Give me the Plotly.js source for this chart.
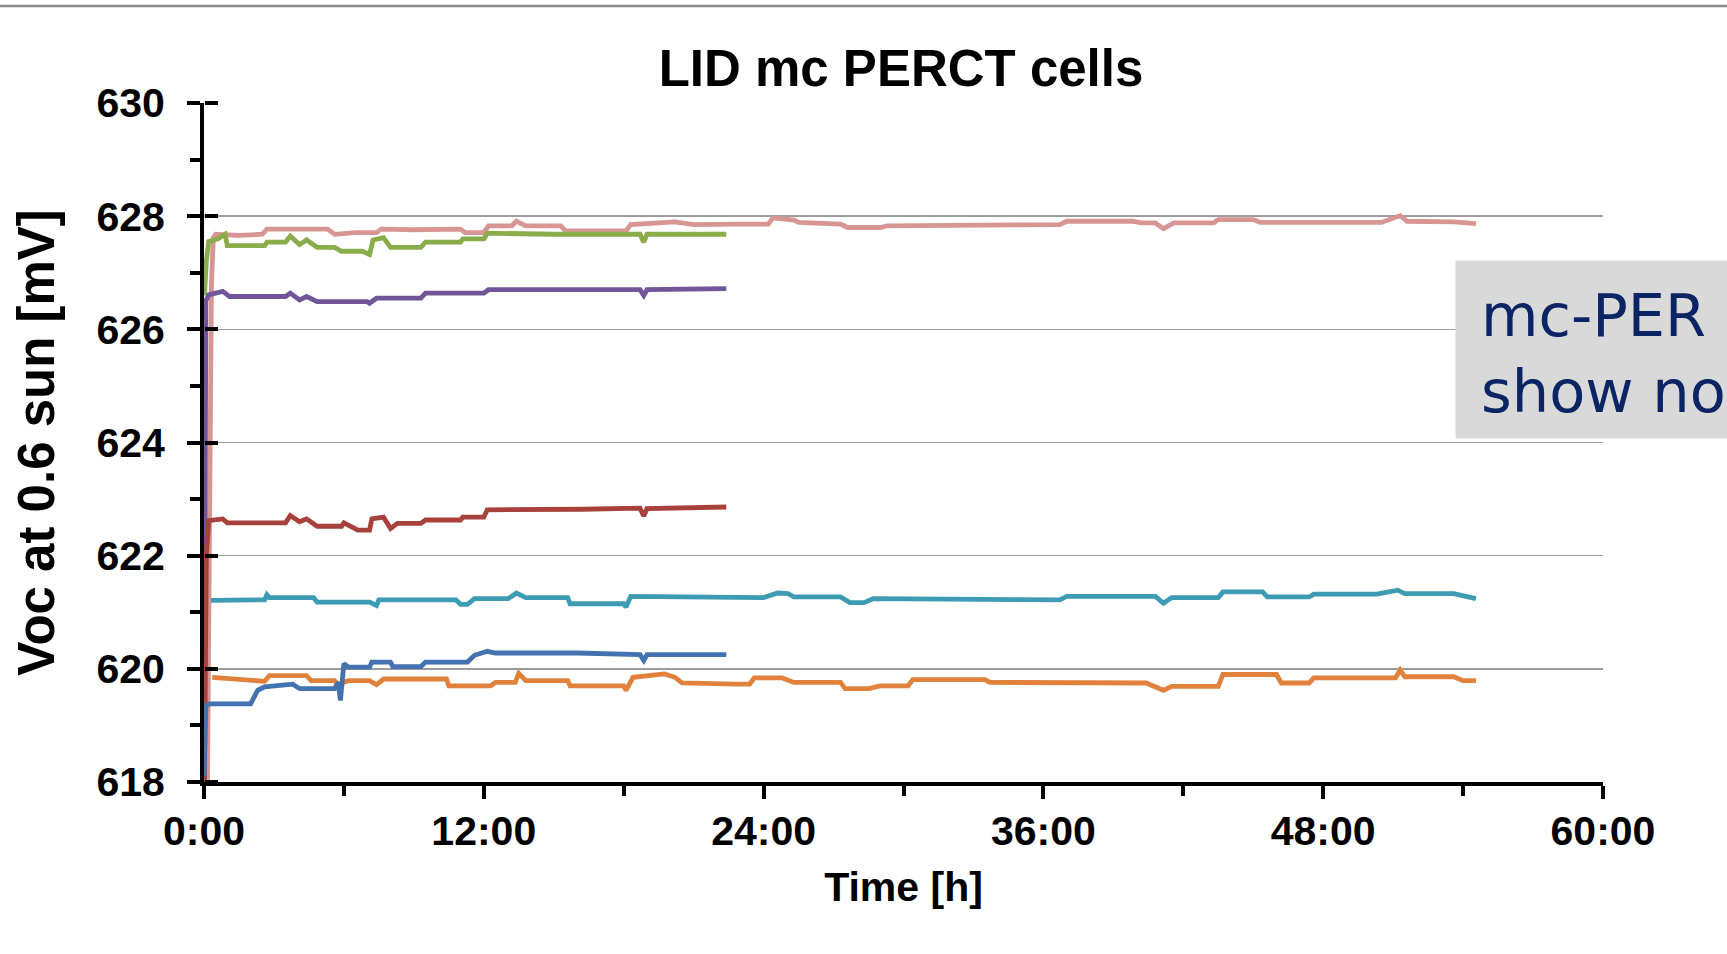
<!DOCTYPE html>
<html>
<head>
<meta charset="utf-8">
<script src="https://cdn.plot.ly/plotly-3.0.1.min.js"></script>
<style>
html,body{margin:0;padding:0;background:#fff;overflow:hidden;}
#chart{width:1727px;height:954px;}
</style>
</head>
<body>
<div id="chart"></div>
<script>
// ---- data (time in hours, Voc in mV) ----
const pinkT = [0.15,0.25,0.32,0.4,0.5,1.5,2.5,2.7,4.0,5.3,5.6,6.5,7.4,7.6,9.0,11.0,11.2,12.0,12.2,13.2,13.4,13.8,15.3,15.5,18.1,18.3,20.2,21.0,22.8,24.2,24.4,25.3,25.5,26.1,27.3,27.6,29.0,29.3,32.6,33.0,36.7,37.0,39.8,40.2,40.8,41.15,41.6,43.3,43.5,45.0,45.3,50.5,51.3,51.6,53.6,54.55];
const pinkV = [618.0,622.5,626.8,627.62,627.68,627.66,627.68,627.77,627.76,627.77,627.68,627.71,627.71,627.77,627.76,627.77,627.71,627.71,627.83,627.83,627.91,627.83,627.83,627.74,627.74,627.85,627.9,627.85,627.86,627.86,627.97,627.93,627.89,627.88,627.86,627.8,627.8,627.83,627.83,627.85,627.85,627.91,627.91,627.88,627.88,627.78,627.88,627.88,627.94,627.94,627.89,627.89,628.01,627.91,627.9,627.87];

const greenT = [0.02,0.1,0.2,0.6,0.9,1.0,2.6,2.7,3.5,3.7,4.1,4.4,4.85,5.6,5.9,6.8,7.1,7.25,7.7,8.0,9.3,9.5,11.0,11.1,12.0,12.15,15.0,18.7,18.86,19.0,22.4];
const greenV = [626.6,627.2,627.55,627.6,627.68,627.48,627.48,627.54,627.54,627.65,627.5,627.58,627.45,627.45,627.38,627.38,627.32,627.58,627.62,627.45,627.45,627.54,627.54,627.6,627.6,627.7,627.68,627.68,627.54,627.68,627.68];

const purpleT = [0.01,0.08,0.2,0.8,1.1,3.5,3.7,4.1,4.4,4.85,7.0,7.1,7.4,9.3,9.5,12.0,12.2,18.7,18.86,19.0,22.4];
const purpleV = [618.2,626.5,626.61,626.67,626.58,626.58,626.64,626.52,626.58,626.49,626.49,626.46,626.55,626.55,626.64,626.64,626.7,626.7,626.6,626.7,626.72];

const redT = [0.02,0.1,0.2,0.8,1.0,3.5,3.7,4.1,4.4,4.85,5.9,6.0,6.6,7.1,7.2,7.7,8.0,8.3,9.3,9.5,11.0,11.1,12.0,12.15,16.2,18.7,18.86,19.0,22.4];
const redV = [618.0,622.0,622.62,622.65,622.58,622.58,622.71,622.6,622.65,622.52,622.52,622.58,622.45,622.45,622.65,622.68,622.48,622.57,622.57,622.63,622.63,622.68,622.68,622.81,622.82,622.84,622.7,622.83,622.86];

const tealT = [0.3,2.6,2.7,2.8,4.7,4.85,7.1,7.4,7.5,10.8,11.0,11.3,11.6,13.05,13.4,13.8,15.6,15.7,18.0,18.1,18.3,22.8,24.0,24.6,25.05,25.3,27.3,27.7,28.3,28.7,33.5,33.7,36.7,37.0,40.8,41.15,41.5,43.5,43.7,45.4,45.6,47.4,47.6,50.3,51.2,51.5,53.6,54.55];
const tealV = [621.21,621.22,621.31,621.26,621.26,621.18,621.18,621.12,621.22,621.22,621.14,621.14,621.24,621.24,621.34,621.26,621.26,621.15,621.15,621.09,621.28,621.27,621.26,621.34,621.33,621.27,621.27,621.17,621.17,621.24,621.24,621.22,621.22,621.28,621.28,621.16,621.26,621.26,621.36,621.36,621.27,621.27,621.32,621.32,621.39,621.33,621.33,621.24];

const blueT = [0.0,0.08,0.2,2.0,2.3,2.6,3.8,4.1,5.6,5.75,5.85,6.0,6.2,7.1,7.2,8.0,8.1,9.3,9.5,11.3,11.6,12.15,12.5,16.0,18.7,18.86,19.0,22.4];
const blueV = [618.1,619.35,619.38,619.38,619.62,619.68,619.73,619.65,619.65,619.76,619.44,620.09,620.03,620.03,620.12,620.12,620.04,620.04,620.12,620.12,620.24,620.31,620.28,620.28,620.25,620.15,620.25,620.25];

const orangeT = [0.35,1.6,2.6,2.8,4.4,4.6,5.6,5.75,6.2,7.1,7.4,7.7,10.4,10.5,12.3,12.5,13.35,13.5,13.8,15.6,15.7,18.0,18.1,18.4,19.75,20.2,20.5,22.8,23.4,23.6,24.8,25.3,27.3,27.5,28.5,29.0,30.2,30.4,33.5,33.7,36.7,37.0,40.4,41.15,41.5,43.5,43.7,46.0,46.2,47.4,47.6,51.1,51.3,51.5,53.6,54.0,54.55];
const orangeV = [619.85,619.82,619.78,619.88,619.88,619.79,619.79,619.73,619.79,619.79,619.72,619.82,619.82,619.7,619.7,619.76,619.76,619.92,619.79,619.79,619.7,619.7,619.62,619.85,619.91,619.85,619.75,619.73,619.73,619.84,619.84,619.76,619.76,619.65,619.65,619.7,619.7,619.81,619.81,619.76,619.76,619.75,619.75,619.62,619.69,619.69,619.9,619.9,619.75,619.75,619.84,619.84,619.98,619.86,619.86,619.79,619.79];

const xTickVals = [0,12,24,36,48,60];
const xTickText = ["0:00","12:00","24:00","36:00","48:00","60:00"];
const xMinorVals = [6,18,30,42,54];

const chartTitle = "LID mc PERCT cells";
const xTitle = "Time [h]";
const yTitle = "Voc at 0.6 sun [mV]";
const boxLine1 = "mc-PER";
const boxLine2 = "show no";

// ---- traces ----
function tr(t, v, color, yax) {
  return {x: t, y: v, type: 'scatter', mode: 'lines', yaxis: yax || 'y',
          line: {color: color, width: 4.8}, showlegend: false, hoverinfo: 'skip'};
}
const data = [
  tr(pinkT, pinkV, '#d79593'),
  tr(orangeT, orangeV, '#e0823b'),
  tr(tealT, tealV, '#3d9bb3'),
  tr(greenT, greenV, '#8aac4a'),
  tr(purpleT, purpleV, '#705698'),
  tr(redT, redV, '#a8403c'),
  tr(blueT, blueV, '#4471b0', 'y2')
];

const F = 'Liberation Sans, Arial, Helvetica, sans-serif';
const L = 204, R = 1603, T = 103, B = 782;
const W = 1727, H = 954;
const pw = R - L, ph = B - T;
const px = v => (v - L) / pw;
const py = v => (B - v) / ph;

const layout = {
  width: W, height: H,
  margin: {l: L, r: W - R, t: T, b: H - B, pad: 0},
  paper_bgcolor: '#ffffff', plot_bgcolor: '#ffffff',
  title: {text: chartTitle, font: {family: F, size: 51, weight: 'bold', color: '#000'},
          x: 901 / W, xref: 'container', xanchor: 'center',
          y: 1 - 68 / H, yref: 'container', yanchor: 'middle'},
  xaxis: {
    range: [0, 60], tickmode: 'array', tickvals: xTickVals, ticktext: xTickText,
    ticks: 'outside', ticklen: 13, tickwidth: 4, tickcolor: '#000',
    showline: true, linecolor: '#000', linewidth: 4,
    showgrid: false, zeroline: false,
    tickfont: {family: F, size: 41, weight: 'bold', color: '#000'},
    ticklabelstandoff: -3,
    minor: {tickmode: 'array', tickvals: xMinorVals, ticks: 'outside', ticklen: 10, tickwidth: 4, tickcolor: '#000', showgrid: false},
    title: {text: xTitle, font: {family: F, size: 41, weight: 'bold', color: '#000'}, standoff: 20},
    fixedrange: true
  },
  yaxis: {
    range: [618, 630], dtick: 2, tick0: 618,
    ticks: 'outside', ticklen: 13, tickwidth: 4, tickcolor: '#000',
    showline: true, linecolor: '#000', linewidth: 4,
    showgrid: true, gridcolor: '#9c9c9c', gridwidth: 1.5, zeroline: false,
    tickfont: {family: F, size: 41, weight: 'bold', color: '#000'},
    ticklabelstandoff: 14,
    minor: {dtick: 1, tick0: 618, ticks: 'outside', ticklen: 10, tickwidth: 4, tickcolor: '#000', showgrid: false},
    title: {text: yTitle, font: {family: F, size: 51, weight: 'bold', color: '#000'}, standoff: 27},
    fixedrange: true
  },
  yaxis2: {
    overlaying: 'y', anchor: 'free', position: 0, side: 'right',
    range: [618, 630], dtick: 2, tick0: 618,
    ticks: 'outside', ticklen: 13, tickwidth: 4, tickcolor: '#000',
    showticklabels: false, showgrid: false, showline: false, zeroline: false,
    fixedrange: true
  },
  shapes: [
    {type: 'line', xref: 'paper', yref: 'paper', x0: px(-5), x1: px(W + 5), y0: py(6), y1: py(6),
     line: {color: '#8c8c8c', width: 2.5}, layer: 'above'},
    {type: 'rect', xref: 'paper', yref: 'paper', x0: px(1455.5), x1: px(W + 10), y0: py(438.5), y1: py(260.5),
     fillcolor: '#d9d9d9', line: {width: 0}, layer: 'above'}
  ],
  annotations: [
    {text: boxLine1, xref: 'paper', yref: 'paper', x: px(1479), y: py(315), xanchor: 'left', yanchor: 'middle',
     showarrow: false, font: {family: 'DejaVu Sans, Noto Sans, sans-serif', size: 59, color: '#0b2463'}},
    {text: boxLine2, xref: 'paper', yref: 'paper', x: px(1479), y: py(391), xanchor: 'left', yanchor: 'middle',
     showarrow: false, font: {family: 'DejaVu Sans, Noto Sans, sans-serif', size: 59, color: '#0b2463'}}
  ]
};

Plotly.newPlot('chart', data, layout, {displayModeBar: false, staticPlot: true});
</script>
</body>
</html>
